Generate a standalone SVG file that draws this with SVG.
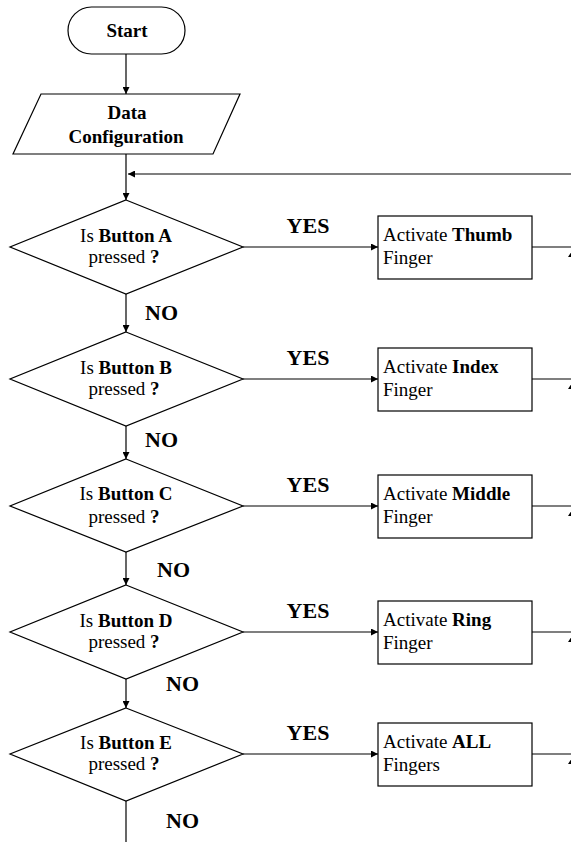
<svg xmlns="http://www.w3.org/2000/svg" width="571" height="842" viewBox="0 0 571 842">
<style>
.sh{fill:#fff;stroke:#000;stroke-width:1.2}
.ln{fill:none;stroke:#000;stroke-width:1.2}
text{font-family:"Liberation Serif","Times New Roman",serif;font-size:19px;fill:#000}
.c{text-anchor:middle}
.b{font-weight:bold}
.lbl{font-weight:bold;font-size:22px}
</style>
<defs>
<marker id="ah" viewBox="0 0 10 10" refX="10" refY="5" markerWidth="8" markerHeight="7" markerUnits="userSpaceOnUse" orient="auto">
<path d="M0,0 L10,5 L0,10 z" fill="#000"/>
</marker>
</defs>
<rect width="571" height="842" fill="#fff"/>
<g id="connectors">
<line class="ln" x1="126" y1="54" x2="126" y2="94" marker-end="url(#ah)"/>
<line class="ln" x1="126" y1="154" x2="126" y2="200" marker-end="url(#ah)"/>
<line class="ln" x1="571" y1="174" x2="128" y2="174" marker-end="url(#ah)"/>
<line class="ln" x1="126" y1="294" x2="126" y2="332" marker-end="url(#ah)"/>
<line class="ln" x1="126" y1="426" x2="126" y2="459" marker-end="url(#ah)"/>
<line class="ln" x1="126" y1="552" x2="126" y2="585" marker-end="url(#ah)"/>
<line class="ln" x1="126" y1="679" x2="126" y2="708" marker-end="url(#ah)"/>
<line class="ln" x1="126" y1="801" x2="126" y2="842"/>
<line class="ln" x1="243" y1="247" x2="378" y2="247" marker-end="url(#ah)"/>
<line class="ln" x1="243" y1="379" x2="378" y2="379" marker-end="url(#ah)"/>
<line class="ln" x1="243" y1="506" x2="378" y2="506" marker-end="url(#ah)"/>
<line class="ln" x1="243" y1="632" x2="378" y2="632" marker-end="url(#ah)"/>
<line class="ln" x1="243" y1="754" x2="378" y2="754" marker-end="url(#ah)"/>
<line class="ln" x1="532" y1="247" x2="571" y2="247"/>
<line class="ln" x1="532" y1="379" x2="571" y2="379"/>
<line class="ln" x1="532" y1="506" x2="571" y2="506"/>
<line class="ln" x1="532" y1="632" x2="571" y2="632"/>
<line class="ln" x1="532" y1="754" x2="571" y2="754"/>
<polygon points="572,251 568,257 576,257" fill="#000"/>
<polygon points="572,383 568,389 576,389" fill="#000"/>
<polygon points="572,510 568,516 576,516" fill="#000"/>
<polygon points="572,636 568,642 576,642" fill="#000"/>
<polygon points="572,758 568,764 576,764" fill="#000"/>
<text class="lbl" x="308" y="233" text-anchor="middle">YES</text>
<text class="lbl" x="308" y="365" text-anchor="middle">YES</text>
<text class="lbl" x="308" y="492" text-anchor="middle">YES</text>
<text class="lbl" x="308" y="618" text-anchor="middle">YES</text>
<text class="lbl" x="308" y="740" text-anchor="middle">YES</text>
<text class="lbl" x="145" y="320">NO</text>
<text class="lbl" x="145" y="447">NO</text>
<text class="lbl" x="157" y="577">NO</text>
<text class="lbl" x="166" y="691">NO</text>
<text class="lbl" x="166" y="828">NO</text>
</g>
<g id="start">
<rect class="sh" x="68" y="7" width="117" height="47" rx="23.5"/>
<text class="c b" x="127" y="37">Start</text>
</g>
<g id="data">
<polygon class="sh" points="41,94 240,94 213,154 13,154"/>
<text class="c b" x="127" y="119">Data</text>
<text class="c b" x="126" y="143">Configuration</text>
</g>
<g id="decA">
<polygon class="sh" points="126,200 243,247 126,294 10,247"/>
<text class="c" x="126" y="242">Is <tspan class="b">Button A</tspan></text>
<text class="c" x="124" y="263">pressed <tspan class="b">?</tspan></text>
</g>
<g id="decB">
<polygon class="sh" points="126,332 243,379 126,426 10,379"/>
<text class="c" x="126" y="374">Is <tspan class="b">Button B</tspan></text>
<text class="c" x="124" y="395">pressed <tspan class="b">?</tspan></text>
</g>
<g id="decC">
<polygon class="sh" points="126,459 243,506 126,552 10,506"/>
<text class="c" x="126" y="500">Is <tspan class="b">Button C</tspan></text>
<text class="c" x="124" y="523">pressed <tspan class="b">?</tspan></text>
</g>
<g id="decD">
<polygon class="sh" points="126,585 243,632 126,679 10,632"/>
<text class="c" x="126" y="627">Is <tspan class="b">Button D</tspan></text>
<text class="c" x="124" y="648">pressed <tspan class="b">?</tspan></text>
</g>
<g id="decE">
<polygon class="sh" points="126,708 243,754 126,801 10,754"/>
<text class="c" x="126" y="749">Is <tspan class="b">Button E</tspan></text>
<text class="c" x="124" y="770">pressed <tspan class="b">?</tspan></text>
</g>
<g id="actA">
<rect class="sh" x="378" y="216" width="154" height="63"/>
<text x="383" y="241">Activate <tspan class="b">Thumb</tspan></text>
<text x="383" y="264">Finger</text>
</g>
<g id="actB">
<rect class="sh" x="378" y="348" width="154" height="63"/>
<text x="383" y="373">Activate <tspan class="b">Index</tspan></text>
<text x="383" y="396">Finger</text>
</g>
<g id="actC">
<rect class="sh" x="378" y="475" width="154" height="63"/>
<text x="383" y="500">Activate <tspan class="b">Middle</tspan></text>
<text x="383" y="523">Finger</text>
</g>
<g id="actD">
<rect class="sh" x="378" y="601" width="154" height="63"/>
<text x="383" y="626">Activate <tspan class="b">Ring</tspan></text>
<text x="383" y="649">Finger</text>
</g>
<g id="actE">
<rect class="sh" x="378" y="723" width="154" height="63"/>
<text x="383" y="748">Activate <tspan class="b">ALL</tspan></text>
<text x="383" y="771">Fingers</text>
</g>
</svg>
